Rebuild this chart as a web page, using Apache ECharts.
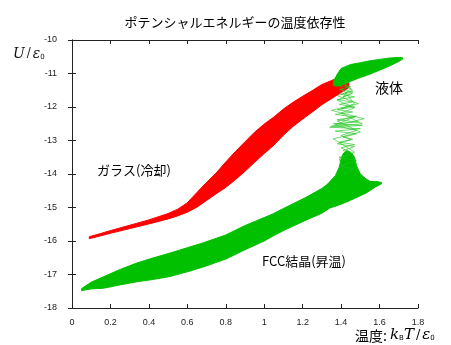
<!DOCTYPE html>
<html><head><meta charset="utf-8">
<script src="https://cdn.jsdelivr.net/npm/echarts@6/dist/echarts.min.js"></script>
<style>html,body{margin:0;padding:0;background:#fff}#c{width:451px;height:345px}</style>
</head><body><div id="c"></div>
<script>
// Tick labels
var xTicks = [0, 0.2, 0.4, 0.6, 0.8, 1, 1.2, 1.4, 1.6, 1.8];
var yTicks = [-18, -17, -16, -15, -14, -13, -12, -11, -10];

// Glass (cooling) band: temperature, centre energy, half thickness
var glassX = [0.09, 0.15, 0.2, 0.3, 0.4, 0.5, 0.55, 0.6, 0.65, 0.7, 0.75, 0.8, 0.85, 0.9, 0.95, 1.0, 1.05, 1.1, 1.15, 1.2, 1.25, 1.3, 1.35, 1.4, 1.44];
var glassC = [-15.9, -15.81, -15.73, -15.58, -15.43, -15.26, -15.15, -15.0, -14.77, -14.52, -14.28, -14.02, -13.75, -13.48, -13.2, -12.95, -12.72, -12.45, -12.22, -12.02, -11.83, -11.63, -11.48, -11.33, -11.22];
var glassH = [0.03, 0.035, 0.04, 0.05, 0.06, 0.08, 0.1, 0.14, 0.22, 0.27, 0.31, 0.38, 0.42, 0.44, 0.45, 0.44, 0.42, 0.39, 0.36, 0.34, 0.32, 0.3, 0.27, 0.24, 0.2];

// FCC crystal (heating) band
var fccX = [0.05, 0.1, 0.163, 0.25, 0.336, 0.42, 0.51, 0.6, 0.68, 0.8, 0.9, 1.0, 1.046, 1.1, 1.22, 1.3, 1.34, 1.4, 1.45, 1.53, 1.58, 1.61];
var fccC = [-17.45, -17.33, -17.24, -17.08, -16.94, -16.83, -16.71, -16.56, -16.42, -16.18, -15.9, -15.65, -15.52, -15.36, -15.03, -14.8, -14.64, -14.55, -14.48, -14.4, -14.3, -14.27];
var fccH = [0.03, 0.1, 0.17, 0.23, 0.28, 0.32, 0.35, 0.36, 0.36, 0.36, 0.36, 0.35, 0.33, 0.33, 0.34, 0.37, 0.38, 0.35, 0.3, 0.17, 0.08, 0.02];

// Liquid band
var liqX = [1.36, 1.38, 1.4, 1.45, 1.5, 1.55, 1.6, 1.65, 1.7, 1.72];
var liqC = [-11.3, -11.2, -11.1, -10.98, -10.9, -10.82, -10.74, -10.66, -10.58, -10.55];
var liqH = [0.06, 0.18, 0.25, 0.25, 0.22, 0.2, 0.16, 0.12, 0.06, 0.02];

// Melting neck (solid part rising from crystal band)
var neckX = [1.33, 1.37, 1.39, 1.40, 1.41, 1.43, 1.45, 1.47, 1.48, 1.50, 1.53, 1.56, 1.5, 1.38];
var neckY = [-14.3, -14.05, -13.8, -13.55, -13.4, -13.3, -13.35, -13.5, -13.75, -14.0, -14.15, -14.25, -14.5, -14.6];

// Melting transition fluctuations
var meltX = [1.43, 1.40, 1.47, 1.39, 1.46, 1.41, 1.48, 1.37, 1.50, 1.34, 1.51, 1.36, 1.49, 1.38, 1.47, 1.37, 1.46, 1.38, 1.47, 1.39, 1.46, 1.38, 1.47, 1.40, 1.46, 1.39, 1.45, 1.41, 1.44,
             1.42, 1.46, 1.38, 1.49, 1.35, 1.52, 1.37, 1.48, 1.40, 1.45, 1.38, 1.47, 1.41, 1.46, 1.39, 1.48, 1.40, 1.46, 1.42,
             1.39, 1.47, 1.36, 1.50, 1.38, 1.48, 1.35, 1.51, 1.40, 1.47, 1.38, 1.46, 1.41, 1.45, 1.39, 1.47, 1.40, 1.45];
var meltY = [-13.3, -13.22, -13.12, -13.05, -12.96, -12.9, -12.8, -12.72, -12.65, -12.6, -12.55, -12.5, -12.45, -12.38, -12.3, -12.22, -12.15, -12.08, -12.0, -11.92, -11.85, -11.78, -11.7, -11.62, -11.55, -11.48, -11.4, -11.32, -11.25,
             -11.35, -11.5, -11.66, -11.9, -12.1, -12.35, -12.55, -12.7, -12.85, -12.98, -13.1, -13.18, -13.3, -13.4, -13.5, -13.6, -13.75, -13.85, -14.0,
             -13.55, -13.35, -12.95, -12.75, -12.42, -12.27, -12.58, -12.5, -12.18, -12.02, -11.8, -11.58, -11.7, -11.45, -11.35, -11.9, -12.05, -11.98];

function bandRender(xs, cs, hs, color) {
  return function (params, api) {
    var pts = [];
    for (var i = 0; i < xs.length; i++) pts.push(api.coord([xs[i], cs[i] + hs[i]]));
    for (var j = xs.length - 1; j >= 0; j--) pts.push(api.coord([xs[j], cs[j] - hs[j]]));
    return { type: 'polygon', shape: { points: pts }, style: { fill: color, stroke: color, lineWidth: 1 } };
  };
}
function polyRender(xs, ys, color) {
  return function (params, api) {
    var pts = [];
    for (var i = 0; i < xs.length; i++) pts.push(api.coord([xs[i], ys[i]]));
    return { type: 'polygon', shape: { points: pts }, style: { fill: color, stroke: color, lineWidth: 1 } };
  };
}

var RED = '#ff0000', GREEN = '#00c000';
var chart = echarts.init(document.getElementById('c'), null, { renderer: 'canvas' });
var lbl = { fontSize: 9, color: '#222', fontFamily: 'Liberation Sans, Arial, sans-serif' };
var axisLineStyle = { lineStyle: { color: '#222', width: 1 } };
var tickStyle = { inside: true, length: 4, lineStyle: { color: '#222' } };

var meltData = meltX.map(function (x, i) { return [x, meltY[i]]; });

chart.setOption({
  animation: false,
  backgroundColor: '#fff',
  title: {
    text: 'ポテンシャルエネルギーの温度依存性',
    left: 230, top: 11, textAlign: 'center',
    textStyle: { fontSize: 13, fontWeight: 'normal', color: '#000', fontFamily: 'Noto Sans CJK JP' }
  },
  grid: { left: 72, right: 33, top: 40, bottom: 37 },
  xAxis: [
    { type: 'value', min: 0, max: 1.8, interval: 0.2, position: 'bottom',
      axisLine: axisLineStyle, axisTick: tickStyle, splitLine: { show: false },
      axisLabel: Object.assign({ margin: 10 }, lbl) },
    { type: 'value', min: 0, max: 1.8, interval: 0.2, position: 'top',
      axisLine: axisLineStyle, axisTick: tickStyle, splitLine: { show: false }, axisLabel: { show: false } }
  ],
  yAxis: [
    { type: 'value', min: -18, max: -10, interval: 1, position: 'left',
      axisLine: axisLineStyle, axisTick: tickStyle, splitLine: { show: false },
      axisLabel: Object.assign({ margin: 15 }, lbl) },
    { type: 'value', min: -18, max: -10, interval: 1, position: 'right',
      axisLine: axisLineStyle, axisTick: tickStyle, splitLine: { show: false }, axisLabel: { show: false } }
  ],
  series: [
    { type: 'custom', renderItem: bandRender(glassX, glassC, glassH, RED), data: [[glassX[0], glassC[0]]], encode: { x: 0, y: 1 }, silent: true },
    { type: 'custom', renderItem: bandRender(fccX, fccC, fccH, GREEN), data: [[fccX[0], fccC[0]]], encode: { x: 0, y: 1 }, silent: true },
    { type: 'custom', renderItem: polyRender(neckX, neckY, GREEN), data: [[neckX[0], neckY[0]]], encode: { x: 0, y: 1 }, silent: true },
    { type: 'line', data: meltData, symbol: 'none', lineStyle: { color: '#22c422', width: 0.8, opacity: 0.8 }, silent: true },
    { type: 'custom', renderItem: bandRender(liqX, liqC, liqH, GREEN), data: [[liqX[0], liqC[0]]], encode: { x: 0, y: 1 }, silent: true }
  ],
  graphic: [
    { type: 'text', left: 97, top: 164, style: { text: 'ガラス(冷却)', font: '13px "Noto Sans CJK JP"', fill: '#000' } },
    { type: 'text', left: 262, top: 255, style: { text: 'FCC結晶(昇温)', font: '13px "Noto Sans CJK JP"', fill: '#000' } },
    { type: 'text', left: 375, top: 81, style: { text: '液体', font: '14px "Noto Sans CJK JP"', fill: '#000' } },
    { type: 'text', left: 13, top: 47, style: {
        text: '{i|U}{n|/}{i|ε}{s|0}',
        rich: {
          i: { fontFamily: 'DejaVu Serif, serif', fontStyle: 'italic', fontSize: 14, fill: '#111' },
          n: { fontFamily: 'DejaVu Serif, serif', fontSize: 12, fill: '#111', padding: [0, 2, 0, 2] },
          s: { fontFamily: 'DejaVu Sans, sans-serif', fontSize: 7, fill: '#111', padding: [6, 0, 0, 0] }
        } } },
    { type: 'text', left: 355, top: 328, style: {
        text: '{c|温度: }{i|k}{s|B}{i|T}{n|/}{i|ε}{s|0}',
        rich: {
          c: { fontFamily: 'Noto Sans CJK JP', fontSize: 14, fill: '#000' },
          i: { fontFamily: 'DejaVu Serif, serif', fontStyle: 'italic', fontSize: 15, fill: '#000' },
          n: { fontFamily: 'DejaVu Serif, serif', fontSize: 13, fill: '#000', padding: [0, 2, 0, 2] },
          s: { fontFamily: 'DejaVu Sans, sans-serif', fontSize: 7, fill: '#000', padding: [6, 0, 0, 0] }
        } } }
  ]
});
</script></body></html>
